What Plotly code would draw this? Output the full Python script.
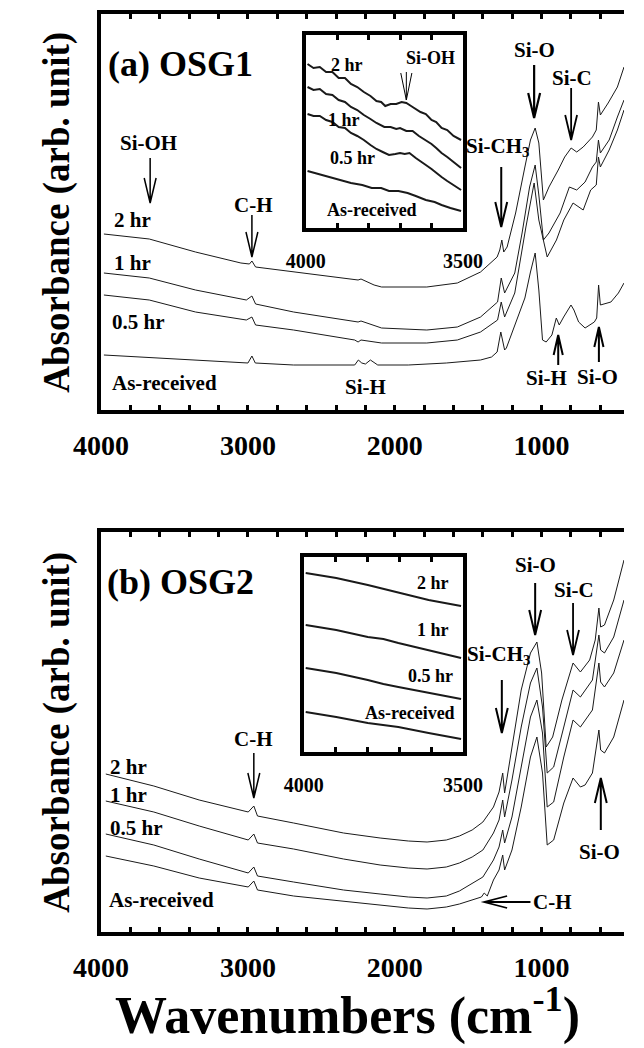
import plotly.graph_objects as go

# ---------------- data (wavenumber in cm-1, absorbance in arb. units) -------------
# Panel (a) OSG1
A_2HR_WN = [3981, 3672, 3357, 3048, 2990, 2973, 2948, 2689, 2374, 2250, 2230, 2141, 2090, 1782, 1574, 1416,
            1303, 1285, 1271, 1258, 1235, 1177, 1114, 1076, 1044, 1019, 988, 950, 887, 843, 799, 761, 717,
            654, 628, 613, 600, 547, 484, 439]
A_2HR = [176, 171, 158, 147, 146, 149, 143, 138, 132, 130, 131, 125, 123, 123, 127, 138,
         153, 160, 170, 158, 163, 197, 243, 270, 282, 267, 210, 223, 240, 253, 262, 258, 263,
         273, 280, 308, 295, 307, 323, 343]
A_1HR_WN = [3981, 3672, 3357, 3011, 2973, 2948, 2689, 2349, 2250, 2230, 2090, 1782, 1574, 1416, 1300, 1275,
            1252, 1183, 1133, 1082, 1044, 1019, 988, 950, 874, 811, 761, 704, 654, 628, 613, 600, 540, 484, 439]
A_1HR = [137, 132, 120, 110, 114, 106, 98, 90, 88, 89, 82, 80, 83, 93, 108, 132,
         117, 137, 177, 223, 245, 215, 170, 177, 197, 223, 220, 228, 243, 248, 270, 257, 270, 293, 310]
A_05_WN = [3981, 3672, 3357, 3011, 2973, 2948, 2689, 2273, 2250, 2230, 2090, 1782, 1574, 1416, 1300, 1275,
           1252, 1183, 1107, 1051, 1019, 962, 899, 849, 786, 717, 666, 628, 613, 600, 540, 484, 439]
A_05 = [115, 110, 98, 90, 93, 85, 80, 70, 68, 70, 67, 67, 70, 78, 90, 108,
        93, 117, 183, 227, 190, 153, 170, 190, 207, 200, 220, 225, 253, 243, 260, 280, 300]
A_AR_WN = [3981, 3357, 3048, 3000, 2973, 2950, 2689, 2273, 2248, 2225, 2200, 2166, 2116, 1908, 1649, 1416,
           1341, 1303, 1278, 1252, 1240, 1177, 1114, 1076, 1044, 1019, 994, 969, 930, 900, 880, 850, 800,
           780, 748, 704, 641, 625, 612, 600, 528, 477, 439]
A_AR = [55, 50, 48, 47, 54, 47, 45, 45, 50, 47, 46, 50, 45, 45, 47, 50,
        53, 58, 78, 60, 62, 88, 112, 138, 157, 120, 70, 68, 75, 92, 85, 93, 105,
        100, 88, 82, 88, 92, 125, 105, 108, 117, 127]

# Panel (a) inset (4000-3500 cm-1)
IA_2HR_WN = [3994, 3975, 3955, 3935, 3915, 3895, 3875, 3856, 3836, 3815, 3794, 3775, 3760, 3747, 3730,
             3712, 3695, 3680, 3665, 3650, 3635, 3618, 3600, 3585, 3568, 3550, 3530, 3506]
IA_2HR = [164, 160, 161, 156, 156, 150, 150, 144, 141, 136, 132, 127, 126, 122, 124,
          124, 126, 125, 122, 119, 116, 114, 108, 106, 100, 98, 92, 88]
IA_1HR_WN = [3994, 3975, 3955, 3935, 3915, 3895, 3875, 3856, 3836, 3815, 3794, 3775, 3750, 3730, 3712,
             3700, 3680, 3660, 3640, 3618, 3600, 3585, 3568, 3550, 3530, 3506]
IA_1HR = [141, 138, 139, 134, 133, 128, 126, 121, 118, 113, 109, 105, 101, 101, 99,
          100, 97, 97, 92, 88, 84, 80, 75, 71, 66, 60]
IA_05_WN = [3994, 3975, 3955, 3935, 3915, 3895, 3875, 3856, 3836, 3815, 3794, 3775, 3755, 3735, 3715,
            3700, 3685, 3670, 3650, 3635, 3618, 3600, 3585, 3568, 3550, 3530, 3506]
IA_05 = [114, 112, 112, 108, 106, 101, 100, 95, 92, 88, 83, 79, 76, 73, 74,
         75, 74, 75, 70, 67, 63, 59, 55, 51, 47, 43, 38]
IA_AR_WN = [3994, 3960, 3930, 3900, 3856, 3820, 3790, 3760, 3735, 3705, 3676, 3650, 3618, 3590, 3568,
            3540, 3506]
IA_AR = [57, 54, 52, 49, 45, 43, 40, 40, 37, 37, 35, 32, 28, 26, 23, 20, 17]

# Panel (b) OSG2
B_2HR_WN = [3968, 3641, 3332, 2998, 2960, 2935, 2689, 2349, 2100, 1908, 1780, 1649, 1560, 1473, 1400, 1328,
            1290, 1265, 1252, 1202, 1139, 1076, 1032, 1000, 969, 925, 862, 786, 736, 673, 635, 610, 598,
            572, 509, 439]
B_2HR = [158, 146, 132, 120, 126, 116, 109, 99, 94, 91, 90, 92, 96, 102, 110, 125,
         140, 159, 139, 185, 242, 279, 290, 259, 185, 195, 232, 269, 260, 272, 292, 324, 305,
         307, 332, 372]
B_1HR_WN = [3968, 3641, 3332, 2998, 2960, 2935, 2689, 2349, 2100, 1908, 1780, 1649, 1560, 1473, 1400, 1328,
            1290, 1265, 1252, 1202, 1139, 1076, 1032, 994, 962, 918, 849, 786, 736, 654, 610, 598, 572,
            509, 439]
B_1HR = [131, 120, 106, 92, 98, 89, 83, 73, 67, 64, 63, 65, 69, 75, 82, 99,
         112, 132, 115, 152, 205, 249, 264, 225, 159, 165, 205, 242, 235, 252, 297, 282, 279,
         295, 332]
B_05_WN = [3968, 3641, 3332, 2998, 2960, 2935, 2689, 2349, 2100, 1908, 1780, 1649, 1560, 1473, 1400, 1328,
           1290, 1265, 1252, 1202, 1139, 1076, 1032, 994, 962, 918, 849, 786, 736, 654, 610, 598, 572,
           509, 439]
B_05 = [98, 87, 73, 59, 65, 56, 50, 42, 38, 35, 34, 36, 41, 49, 55, 72,
        85, 102, 89, 115, 165, 215, 232, 199, 125, 130, 175, 212, 205, 222, 269, 250, 245,
        259, 292]
B_AR_WN = [3968, 3641, 3332, 2998, 2960, 2935, 2689, 2349, 2100, 1908, 1780, 1649, 1560, 1473, 1410, 1391,
           1370, 1328, 1290, 1265, 1252, 1202, 1139, 1076, 1032, 994, 962, 918, 849, 786, 736, 704, 654,
           610, 598, 572, 509, 439]
B_AR = [76, 66, 54, 45, 51, 42, 36, 31, 27, 24, 23, 25, 28, 32, 35, 39,
        36, 52, 62, 77, 62, 82, 125, 175, 195, 159, 87, 92, 129, 154, 145, 147, 159,
        202, 182, 179, 195, 232]

# Panel (b) inset
IB_WN = [3994, 3898, 3799, 3750, 3703, 3608, 3506]
IB_2HR = [179, 174, 167, 163, 159, 152, 146]
IB_1HR = [127, 122, 115, 113, 109, 102, 94]
IB_05 = [84, 79, 72, 68, 65, 59, 53]
IB_AR = [40, 35, 29, 27, 25, 19, 13]

# tick labels
MAIN_TICKVALS = list(range(4000, 399, -200))
MAIN_TICKTEXT = [str(v) if v % 1000 == 0 else "" for v in MAIN_TICKVALS]
INSET_TICKVALS = [4000, 3900, 3800, 3700, 3600, 3500]
INSET_TICKTEXT = ["4000", "", "", "", "", "3500"]

# ---------------- layout geometry ----------------
W, H = 644, 1048
FONT = "Liberation Serif, Times New Roman, serif"


def py(ypx):
    return 1 - ypx / H


fig = go.Figure()

def curve(x, y, xa, ya, w):
    fig.add_trace(go.Scatter(x=x, y=y, mode="lines", xaxis=xa, yaxis=ya,
                             line=dict(color="#1a1a1a", width=w), hoverinfo="skip"))

for xs, ys in [(A_2HR_WN, A_2HR), (A_1HR_WN, A_1HR), (A_05_WN, A_05), (A_AR_WN, A_AR)]:
    curve(xs, ys, "x", "y", 1)
for xs, ys in [(B_2HR_WN, B_2HR), (B_1HR_WN, B_1HR), (B_05_WN, B_05), (B_AR_WN, B_AR)]:
    curve(xs, ys, "x2", "y2", 1)
for xs, ys in [(IA_2HR_WN, IA_2HR), (IA_1HR_WN, IA_1HR), (IA_05_WN, IA_05), (IA_AR_WN, IA_AR)]:
    curve(xs, ys, "x3", "y3", 2)
for ys in [IB_2HR, IB_1HR, IB_05, IB_AR]:
    curve(IB_WN, ys, "x4", "y4", 2)

main_x = dict(range=[4000, 439], showline=True, linewidth=4, linecolor="black", mirror="ticks",
              ticks="inside", ticklen=5, tickwidth=3, tickcolor="black",
              tickvals=MAIN_TICKVALS, ticktext=MAIN_TICKTEXT, ticklabelstandoff=7,
              tickfont=dict(family=FONT, size=28, color="black", weight="bold"),
              showgrid=False, zeroline=False, fixedrange=True)
main_y = dict(showline=True, linewidth=4, linecolor="black", mirror=False, ticks="",
              showticklabels=False, showgrid=False, zeroline=False)
inset_x = dict(range=[4000, 3500], showline=True, linewidth=4, linecolor="black", mirror="ticks",
               ticks="inside", ticklen=5, tickwidth=3, tickcolor="black",
               tickvals=INSET_TICKVALS, ticktext=INSET_TICKTEXT, ticklabelstandoff=12,
               tickfont=dict(family=FONT, size=20, color="black", weight="bold"),
               showgrid=False, zeroline=False)
inset_y = dict(showline=True, linewidth=4, linecolor="black", mirror=True, ticks="",
               showticklabels=False, showgrid=False, zeroline=False)

fig.update_layout(
    width=W, height=H, autosize=False, margin=dict(l=0, r=0, t=0, b=0),
    paper_bgcolor="white", plot_bgcolor="white", showlegend=False,
    xaxis=dict(main_x, domain=[79 / W, 1], anchor="y"),
    yaxis=dict(main_y, domain=[py(410), py(14)], range=[0, 396], anchor="x"),
    xaxis2=dict(main_x, domain=[79 / W, 1], anchor="y2"),
    yaxis2=dict(main_y, domain=[py(932), py(532)], range=[0, 400], anchor="x2"),
    xaxis3=dict(inset_x, domain=[300 / W, 470 / W], anchor="y3"),
    yaxis3=dict(inset_y, domain=[py(228), py(35)], range=[0, 193], anchor="x3"),
    xaxis4=dict(inset_x, domain=[298 / W, 470 / W], anchor="y4"),
    yaxis4=dict(inset_y, domain=[py(752), py(557)], range=[0, 195], anchor="x4"),
)

# ---------------- text labels ----------------
def label(text, x, y, xr, yr, size=21):
    fig.add_annotation(text=text, x=x, y=y, xref=xr, yref=yr, showarrow=False,
                       xanchor="center", yanchor="middle",
                       font=dict(family=FONT, size=size, color="black", weight="bold"))

for t, x, y in [("Si-OH", 3679, 267), ("2 hr", 3786, 190), ("1 hr", 3786, 147), ("0.5 hr", 3748, 88),
                ("As-received", 3565, 27), ("C-H", 2960, 205), ("Si-H", 2198, 23),
                ("Si-CH<sub>3</sub>", 1303, 263), ("Si-O", 1051, 360), ("Si-C", 792, 332),
                ("Si-H", 969, 32), ("Si-O", 622, 33)]:
    label(t, x, y, "x", "y")
label("(a) OSG1", 3458, 346, "x", "y", 36)

for t, x, y in [("2 hr", 3811, 165), ("1 hr", 3811, 137), ("0.5 hr", 3761, 104), ("As-received", 3590, 32),
                ("C-H", 2960, 193), ("Si-CH<sub>3</sub>", 1296, 277), ("Si-O", 1044, 367),
                ("Si-C", 780, 342), ("Si-O", 603, 80), ("C-H", 925, 30)]:
    label(t, x, y, "x2", "y2")
label("(b) OSG2", 3458, 350, "x2", "y2", 36)

for t, x, y in [("2 hr", 3868, 163), ("Si-OH", 3603, 170), ("1 hr", 3879, 108), ("0.5 hr", 3850, 70),
                ("As-received", 3788, 18)]:
    label(t, x, y, "x3", "y3", 18)
for t, x, y in [("2 hr", 3593, 169), ("1 hr", 3593, 122), ("0.5 hr", 3602, 76), ("As-received", 3666, 39)]:
    label(t, x, y, "x4", "y4", 18)

for yc in [py(212), py(732)]:
    fig.add_annotation(text="Absorbance (arb. unit)", x=31 / W, y=yc, xref="paper", yref="paper",
                       showarrow=False, textangle=-90, xanchor="center", yanchor="middle",
                       font=dict(family=FONT, size=37, color="black", weight="bold"))
fig.add_annotation(text="Wavenumbers (cm<sup>-1</sup>)", x=345 / W, y=py(1012), xref="paper", yref="paper",
                   showarrow=False, xanchor="center", yanchor="middle",
                   font=dict(family=FONT, size=52, color="black", weight="bold"))

# ---------------- arrows (open V heads) ----------------
MAIN_PX = 571 / 3561  # px per cm-1 on main axes
INSET_PX = 170 / 500


def varrow(xr, yr, x, y_tail, y_head, pxx, hl=25, hw=6.5, lw=1.5):
    d = 1 if y_head < y_tail else -1
    dx = hw / pxx
    path = (f"M{x},{y_tail} L{x},{y_head} M{x - dx},{y_head + d * hl} L{x},{y_head} "
            f"L{x + dx},{y_head + d * hl}")
    fig.add_shape(type="path", path=path, xref=xr, yref=yr, line=dict(color="black", width=lw))


varrow("x", "y", 3666, 252, 207, MAIN_PX)
varrow("x", "y", 2973, 195, 153, MAIN_PX)
varrow("x", "y", 1275, 243, 183, MAIN_PX, lw=2)
varrow("x", "y", 1051, 345, 292, MAIN_PX, lw=2.2)
varrow("x", "y", 799, 322, 270, MAIN_PX, lw=1.8)
varrow("x", "y", 887, 45, 75, MAIN_PX, hl=20, hw=5, lw=2)
varrow("x", "y", 610, 48, 83, MAIN_PX, hl=20, hw=5, lw=2)
varrow("x3", "y3", 3680, 156, 128, INSET_PX, hl=27, hw=6, lw=1)

varrow("x2", "y2", 2960, 179, 134, MAIN_PX)
varrow("x2", "y2", 1271, 252, 199, MAIN_PX, lw=2)
varrow("x2", "y2", 1044, 349, 297, MAIN_PX, lw=2)
varrow("x2", "y2", 786, 329, 277, MAIN_PX, lw=1.8)
varrow("x2", "y2", 597, 102, 154, MAIN_PX, lw=2)

# horizontal C-H arrow in panel (b)
hx_tail, hx_head, hy = 1076, 1391, 30
hdx = 25 / MAIN_PX
fig.add_shape(type="path", xref="x2", yref="y2", line=dict(color="black", width=1.8),
              path=(f"M{hx_tail},{hy} L{hx_head},{hy} M{hx_head - hdx},{hy + 6} L{hx_head},{hy} "
                    f"L{hx_head - hdx},{hy - 6}"))

fig.write_html("out.html")
